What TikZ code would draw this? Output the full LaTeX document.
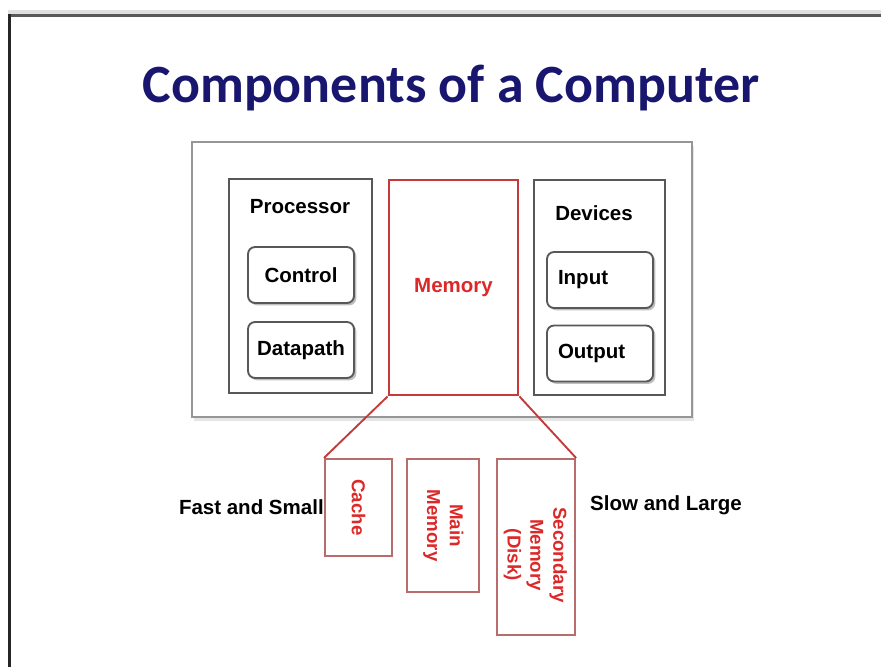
\documentclass[tikz,border=0pt]{standalone}
\usepackage{fontspec}
\setmainfont{Liberation Sans}
\newfontfamily\titlefont{Carlito}
\usetikzlibrary{positioning,shadows}
\definecolor{navy}{RGB}{24,22,110}
\definecolor{boxgray}{RGB}{88,88,88}
\definecolor{outergray}{RGB}{150,150,150}
\definecolor{memred}{RGB}{196,58,58}
\definecolor{rose}{RGB}{184,108,108}
\definecolor{txtred}{RGB}{220,40,40}
\tikzset{
	lbl/.style={font=\bfseries\fontsize{17.5}{21}\selectfont, inner sep=0pt},
	grp/.style={draw=boxgray, line width=2pt, inner sep=0pt},
	unit/.style={lbl, draw=boxgray, line width=1.6pt, rounded corners=6pt, fill=white,
		minimum width=3.18cm, minimum height=1.68cm,
		drop shadow={shadow xshift=2pt, shadow yshift=-2pt, fill=black!25, opacity=1}},
	unitl/.style={unit, text width=2.52cm, align=left},
	mem/.style={draw=rose, line width=1.8pt, inner sep=0pt,
		font=\bfseries\fontsize{16}{19.5}\selectfont, text=txtred},
	memtxt/.style={inner sep=0pt, font=\bfseries\fontsize{16}{19.5}\selectfont, text=txtred},
	link/.style={draw=memred, line width=1.6pt},
}

\begin{document}
\begin{tikzpicture}[x=0.03cm, y=-0.03cm]
	\useasboundingbox (0,0) rectangle (881,667);

	% frame
	\fill [black!12] (8,10) rectangle (881,14);
	\fill [black!65] (8,14) rectangle (881,17);
	\fill [black!85] (8,14) rectangle (11,667);

	\node [font=\titlefont\bfseries\fontsize{46}{50}\selectfont, text=navy] (title) at (451,88) {Components of a Computer};

	% computer
	\node [draw=outergray, line width=2.5pt, inner sep=0pt, fill=white,
		minimum width=15cm, minimum height=8.25cm,
		drop shadow={shadow xshift=2pt, shadow yshift=-3pt, fill=black!10, opacity=1}] (comp) at (442,279.5) {};

	\node [grp, minimum width=4.29cm, minimum height=6.42cm] (proc) at (300.5,286) {};
	\node [lbl] (proclbl) at (300,207) {Processor};
	\node [unit] (ctrl) at (301,275) {Control};
	\node [unit] (dpath) at (301,350) {Datapath};

	\node [lbl, draw=memred, line width=2.5pt, text=txtred, minimum width=3.87cm, minimum height=6.45cm] (memory) at (453.5,287.5) {Memory};

	\node [grp, minimum width=3.93cm, minimum height=6.45cm] (dev) at (599.5,287.5) {};
	\node [lbl] (devlbl) at (594,213) {Devices};
	\node [unitl] (inp) at (600,280) {Input};
	\node [unitl] (outp) at (600,353.5) {Output};

	% hierarchy
	\node [mem, minimum width=2.01cm, minimum height=2.91cm] (cache) at (358.5,507.5) {\rotatebox{-90}{Cache}};
	\node [mem, minimum width=2.16cm, minimum height=3.99cm] (mainm) at (443,525.5) {\rotatebox{-90}{\begin{tabular}{@{}c@{}}Main\\Memory\end{tabular}}};
	\node [mem, minimum width=2.34cm, minimum height=5.28cm] (sec) at (536,547) {};
	\node [memtxt] (seclbl) at (535,555) {\rotatebox{-90}{\begin{tabular}{@{}c@{}}Secondary\\Memory\\(Disk)\end{tabular}}};

	\node [lbl, left=0pt of cache] (fast) {Fast and Small};
	\node [lbl, anchor=west] (slow) at (590,505) {Slow and Large};

	\draw [link] (memory.south west) -- (cache.north west);
	\draw [link] (memory.south east) -- (sec.north east);
\end{tikzpicture}
\end{document}
